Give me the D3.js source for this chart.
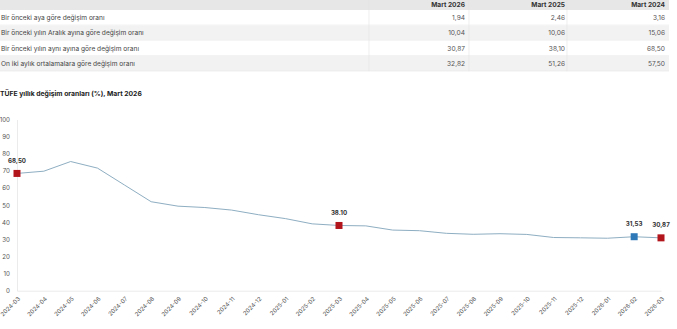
<!DOCTYPE html>
<html lang="tr">
<head>
<meta charset="utf-8">
<script src="https://cdn.jsdelivr.net/npm/d3@7"></script>
<style>
  html, body { margin: 0; padding: 0; background: #fff; overflow: hidden; }
  svg { display: block; font-family: Inter, "Noto Sans", sans-serif; }
</style>
</head>
<body>
<svg id="chart" width="677" height="329"></svg>
<script>
// Summary table
const tableColumns = ["Mart 2026", "Mart 2025", "Mart 2024"];
const tableRows = [
  "Bir önceki aya göre değişim oranı",
  "Bir önceki yılın Aralık ayına göre değişim oranı",
  "Bir önceki yılın aynı ayına göre değişim oranı",
  "On iki aylık ortalamalara göre değişim oranı"
];
const tableValues = [
  ["1,94", "2,46", "3,16"],
  ["10,04", "10,06", "15,06"],
  ["30,87", "38,10", "68,50"],
  ["32,82", "51,26", "57,50"]
];

// Annual CPI change series
const months = [
  "2024-03", "2024-04", "2024-05", "2024-06", "2024-07", "2024-08", "2024-09",
  "2024-10", "2024-11", "2024-12", "2025-01", "2025-02", "2025-03", "2025-04",
  "2025-05", "2025-06", "2025-07", "2025-08", "2025-09", "2025-10", "2025-11",
  "2025-12", "2026-01", "2026-02", "2026-03"
];
const rates = [
  68.50, 69.80, 75.45, 71.60, 61.78, 51.97, 49.38, 48.58, 47.09, 44.38, 42.12,
  39.05, 38.10, 37.86, 35.41, 35.05, 33.52, 32.95, 33.29, 32.87, 31.07, 30.89,
  30.65, 31.53, 30.87
];
const yTicks = [0, 10, 20, 30, 40, 50, 60, 70, 80, 90, 100];
// Highlighted points: month, label text, colour
const highlights = [
  { month: "2024-03", label: "68,50", color: "#b3151d" },
  { month: "2025-03", label: "38.10", color: "#b3151d" },
  { month: "2026-02", label: "31,53", color: "#2f78b8" },
  { month: "2026-03", label: "30,87", color: "#b3151d" }
];
const chartTitle = "TÜFE yıllık değişim oranları (%), Mart 2026";

const svg = d3.select("#chart");

// ---- table ----
const table = svg.append("g");
const colRight = [465, 565, 665];
const colSep = [369, 469, 567];
const headerH = 10, rowH = 15.3, tableW = 669;

table.append("rect").attr("x", 0).attr("y", 0).attr("width", tableW).attr("height", headerH)
  .attr("fill", "#e7e7e7");
table.selectAll("text.hdr").data(tableColumns).join("text")
  .attr("class", "hdr")
  .attr("x", (d, i) => colRight[i]).attr("y", 6.5)
  .attr("text-anchor", "end")
  .attr("font-size", 6.6).attr("font-weight", 700).attr("fill", "#333")
  .text(d => d);

const rowsG = table.selectAll("g.row").data(tableRows).join("g")
  .attr("class", "row")
  .attr("transform", (d, i) => `translate(0,${headerH + i * rowH})`);
rowsG.append("rect").attr("width", tableW).attr("height", rowH)
  .attr("fill", (d, i) => i % 2 ? "#f2f2f2" : "#ffffff");
rowsG.append("line").attr("x1", 0).attr("x2", tableW).attr("y1", rowH - 0.25).attr("y2", rowH - 0.25)
  .attr("stroke", "#e4e4e4").attr("stroke-width", 0.5);
rowsG.append("text").attr("x", 1).attr("y", rowH / 2 + 2.3)
  .attr("font-size", 6.6).attr("fill", "#444")
  .text(d => d);
rowsG.each(function (d, i) {
  d3.select(this).selectAll("text.val").data(tableValues[i]).join("text")
    .attr("class", "val")
    .attr("x", (v, j) => colRight[j]).attr("y", rowH / 2 + 2.3)
    .attr("text-anchor", "end")
    .attr("font-size", 6.6).attr("fill", "#555")
    .text(v => v);
});
table.selectAll("line.sep").data(colSep).join("line")
  .attr("class", "sep")
  .attr("x1", d => d).attr("x2", d => d)
  .attr("y1", 0).attr("y2", headerH + rowH * tableRows.length)
  .attr("stroke", "#e2e2e2").attr("stroke-width", 0.6);

// ---- chart title ----
svg.append("text").attr("x", 0).attr("y", 95.5)
  .attr("font-size", 6.8).attr("font-weight", 700).attr("fill", "#222")
  .text(chartTitle);

// ---- line chart ----
const x = d3.scalePoint().domain(months).range([17, 661]);
const y = d3.scaleLinear().domain([0, 100]).range([290.7, 119.5]);

// axes
const yAxis = svg.append("g").attr("transform", "translate(17,0)")
  .call(d3.axisLeft(y).tickValues(yTicks).tickSize(0).tickPadding(7));
yAxis.select(".domain").attr("stroke", "#e6e6e6").attr("stroke-width", 0.8);
yAxis.selectAll("text").attr("font-size", 6.2).attr("fill", "#555")
  .attr("font-family", "Inter, 'Noto Sans', sans-serif");

const xAxis = svg.append("g").attr("transform", `translate(0,${y(0)})`)
  .call(d3.axisBottom(x).tickSize(0).tickPadding(0));
xAxis.select(".domain").attr("stroke", "#e6e6e6").attr("stroke-width", 0.8);
xAxis.selectAll("text")
  .attr("font-size", 5.9).attr("fill", "#555")
  .attr("font-family", "Inter, 'Noto Sans', sans-serif")
  .attr("text-anchor", "end")
  .attr("dy", 0)
  .attr("transform", "translate(3,8.5) rotate(-45)");

// series line
svg.append("path")
  .datum(rates)
  .attr("fill", "none")
  .attr("stroke", "#8eaec2")
  .attr("stroke-width", 1)
  .attr("d", d3.line().x((d, i) => x(months[i])).y(d => y(d)));

// highlighted markers and labels
const ms = 7;
const hl = svg.selectAll("g.hl").data(highlights).join("g").attr("class", "hl");
hl.append("rect")
  .attr("x", d => x(d.month) - ms / 2)
  .attr("y", d => y(rates[months.indexOf(d.month)]) - ms / 2)
  .attr("width", ms).attr("height", ms)
  .attr("fill", d => d.color);
hl.append("text")
  .attr("x", d => x(d.month))
  .attr("y", d => y(rates[months.indexOf(d.month)]) - 10.5)
  .attr("text-anchor", "middle")
  .attr("font-size", 6.2).attr("font-weight", 700).attr("fill", "#333")
  .text(d => d.label);
</script>
</body>
</html>
